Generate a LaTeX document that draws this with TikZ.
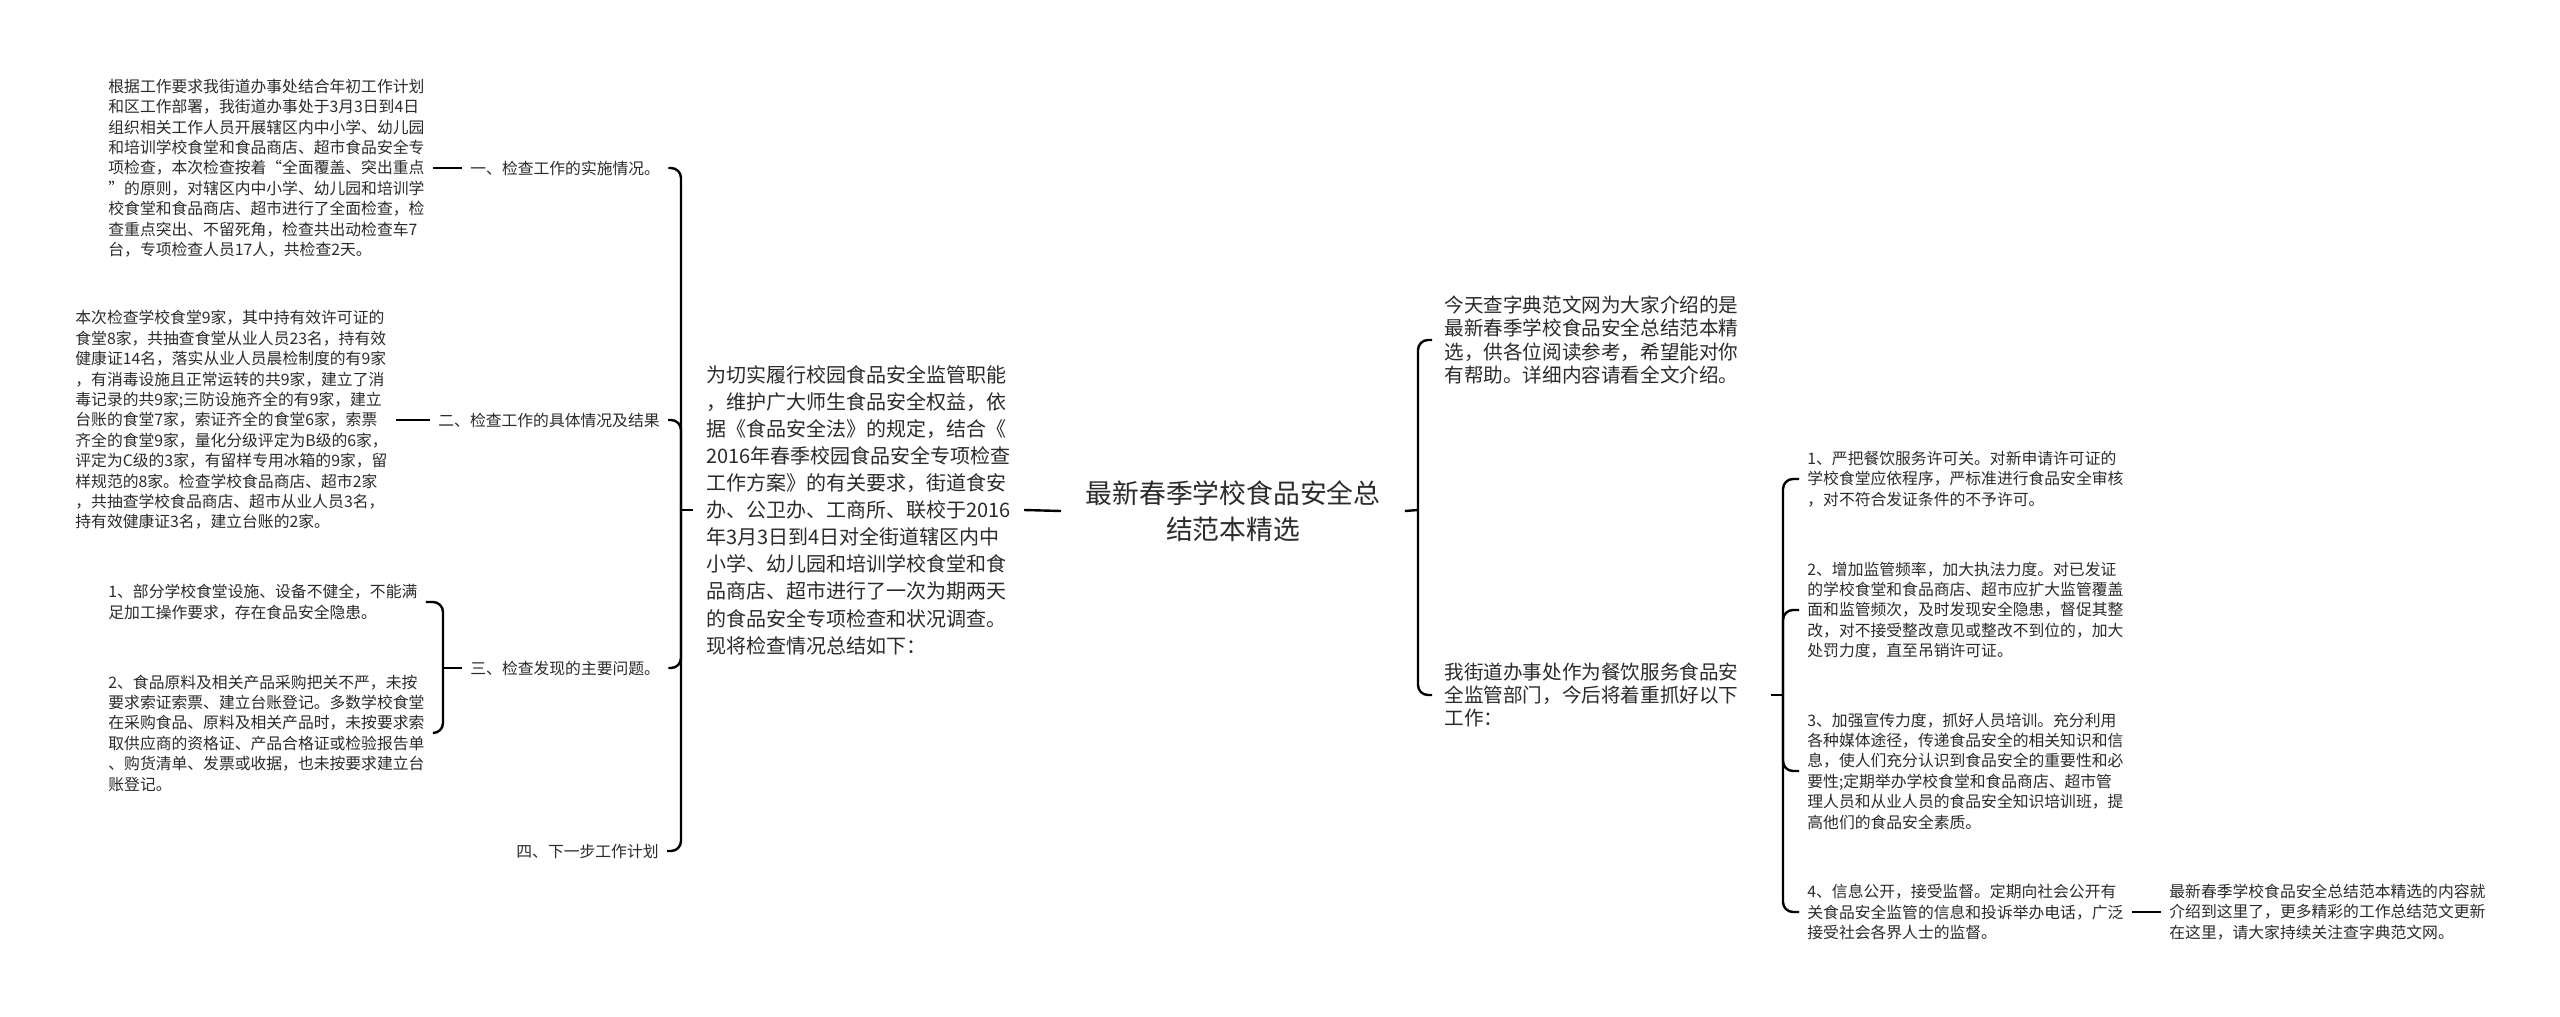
\documentclass[tikz,border=0pt]{standalone}
\usepackage{fontspec}
\setmainfont{Noto Sans CJK SC}
\definecolor{ink}{HTML}{2B2B2B}

\begin{document}
\begin{tikzpicture}[x=0.5pt,y=-0.5pt,
  every node/.style={text=ink, inner ysep=2pt},
  small/.style={font=\fontsize{7.9}{10.2}\selectfont, align=left, inner xsep=4pt},
  mid/.style={font=\fontsize{9.8}{11.6}\selectfont, align=left, inner xsep=6pt, text width=157pt},
  link/.style={draw=black, line width=1.2pt},
  curl/.style={link, rounded corners=5pt}]
  \path[fill=white] (0,0) rectangle (2560,1017);

  \node[font=\fontsize{13.4}{18.2}\selectfont, align=center, inner xsep=12pt] (root) at (1233,511)
    {最新春季学校食品安全总\\结范本精选};
  \node[font=\fontsize{10}{13.55}\selectfont, align=left, inner xsep=6.5pt, anchor=west] (intro) at (693,510)
    {为切实履行校园食品安全监管职能\\，维护广大师生食品安全权益，依\\据《食品安全法》的规定，结合《\\2016年春季校园食品安全专项检查\\工作方案》的有关要求，街道食安\\办、公卫办、工商所、联校于2016\\年3月3日到4日对全街道辖区内中\\小学、幼儿园和培训学校食堂和食\\品商店、超市进行了一次为期两天\\的食品安全专项检查和状况调查。\\现将检查情况总结如下：};

  \node[small, anchor=west] (s1) at (462,168) {一、检查工作的实施情况。};
  \node[small, anchor=west] (s2) at (430,420) {二、检查工作的具体情况及结果};
  \node[small, anchor=west] (s3) at (462,668) {三、检查发现的主要问题。};
  \node[small, anchor=west] (s4) at (508,851) {四、下一步工作计划};

  \node[small, anchor=west] (d1) at (100,168)
    {根据工作要求我街道办事处结合年初工作计划\\和区工作部署，我街道办事处于3月3日到4日\\组织相关工作人员开展辖区内中小学、幼儿园\\和培训学校食堂和食品商店、超市食品安全专\\项检查，本次检查按着“全面覆盖、突出重点\\”的原则，对辖区内中小学、幼儿园和培训学\\校食堂和食品商店、超市进行了全面检查，检\\查重点突出、不留死角，检查共出动检查车7\\台，专项检查人员17人，共检查2天。};
  \node[small, anchor=west] (d2) at (67,420)
    {本次检查学校食堂9家，其中持有效许可证的\\食堂8家，共抽查食堂从业人员23名，持有效\\健康证14名，落实从业人员晨检制度的有9家\\，有消毒设施且正常运转的共9家，建立了消\\毒记录的共9家;三防设施齐全的有9家，建立\\台账的食堂7家，索证齐全的食堂6家，索票\\齐全的食堂9家，量化分级评定为B级的6家，\\评定为C级的3家，有留样专用冰箱的9家，留\\样规范的8家。检查学校食品商店、超市2家\\，共抽查学校食品商店、超市从业人员3名，\\持有效健康证3名，建立台账的2家。};
  \node[small, anchor=west] (p1) at (100,602)
    {1、部分学校食堂设施、设备不健全，不能满\\足加工操作要求，存在食品安全隐患。};
  \node[small, anchor=west] (p2) at (100,733)
    {2、食品原料及相关产品采购把关不严，未按\\要求索证索票、建立台账登记。多数学校食堂\\在采购食品、原料及相关产品时，未按要求索\\取供应商的资格证、产品合格证或检验报告单\\、购货清单、发票或收据，也未按要求建立台\\账登记。};

  \node[mid, anchor=west] (news) at (1432,340)
    {今天查字典范文网为大家介绍的是\\最新春季学校食品安全总结范本精\\选，供各位阅读参考，希望能对你\\有帮助。详细内容请看全文介绍。};
  \node[mid, anchor=west] (plan) at (1432,695)
    {我街道办事处作为餐饮服务食品安\\全监管部门，今后将着重抓好以下\\工作：};

  \node[small, anchor=west] (m1) at (1799,479)
    {1、严把餐饮服务许可关。对新申请许可证的\\学校食堂应依程序，严标准进行食品安全审核\\，对不符合发证条件的不予许可。};
  \node[small, anchor=west] (m2) at (1799,610)
    {2、增加监管频率，加大执法力度。对已发证\\的学校食堂和食品商店、超市应扩大监管覆盖\\面和监管频次，及时发现安全隐患，督促其整\\改，对不接受整改意见或整改不到位的，加大\\处罚力度，直至吊销许可证。};
  \node[small, anchor=west] (m3) at (1799,771)
    {3、加强宣传力度，抓好人员培训。充分利用\\各种媒体途径，传递食品安全的相关知识和信\\息，使人们充分认识到食品安全的重要性和必\\要性;定期举办学校食堂和食品商店、超市管\\理人员和从业人员的食品安全知识培训班，提\\高他们的食品安全素质。};
  \node[small, anchor=west] (m4) at (1799,912)
    {4、信息公开，接受监督。定期向社会公开有\\关食品安全监管的信息和投诉举办电话，广泛\\接受社会各界人士的监督。};
  \node[small, anchor=west] (fin) at (2161,912)
    {最新春季学校食品安全总结范本精选的内容就\\介绍到这里了，更多精彩的工作总结范文更新\\在这里，请大家持续关注查字典范文网。};

  \coordinate (j1) at (681,510);
  \coordinate (j2) at (443,668);
  \coordinate (j3) at (1418,510);
  \coordinate (j4) at (1783,695);

  \draw[link] (root.west) -- (intro.east);
  \draw[link] (intro.west) -- (j1);
  \draw[curl] (j1) |- (s1.east);
  \draw[curl] (j1) |- (s2.east);
  \draw[curl] (j1) |- (s3.east);
  \draw[curl] (j1) |- (s4.east);
  \draw[link] (s1.west) -- (d1.east);
  \draw[link] (s2.west) -- (d2.east);
  \draw[link] (s3.west) -- (j2);
  \draw[curl] (j2) |- (p1.east);
  \draw[curl] (j2) |- (p2.east);

  \draw[link] (root.east) -- (j3);
  \draw[curl] (j3) |- (news.west);
  \draw[curl] (j3) |- (plan.west);
  \draw[link] (plan.east) -- (j4);
  \draw[curl] (j4) |- (m1.west);
  \draw[curl] (j4) |- (m2.west);
  \draw[curl] (j4) |- (m3.west);
  \draw[curl] (j4) |- (m4.west);
  \draw[link] (m4.east) -- (fin.west);
\end{tikzpicture}
\end{document}
